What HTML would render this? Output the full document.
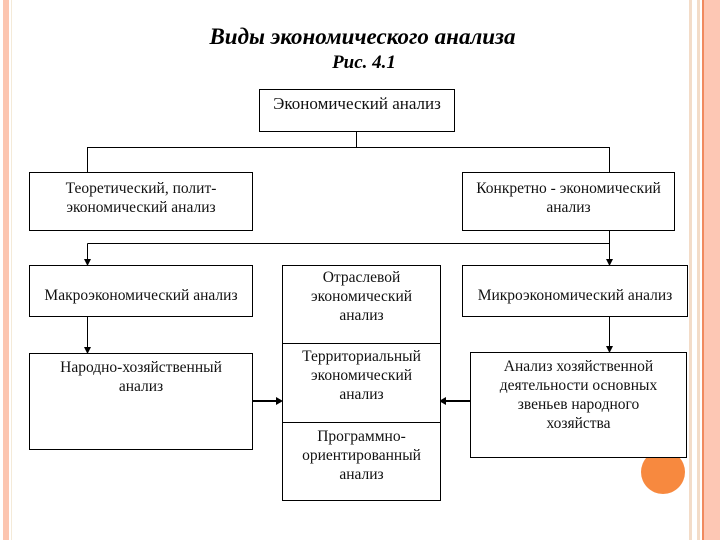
<!DOCTYPE html>
<html><head><meta charset="utf-8"><style>
body{margin:0;width:720px;height:540px;position:relative;background:#fff;overflow:hidden;font-family:"Liberation Serif",serif;}
.b{position:absolute;border:1px solid #000;box-sizing:border-box;text-align:center;font-size:15.5px;line-height:19px;color:#111;background:#fff;white-space:nowrap;}
.s{position:absolute;}
</style></head><body>
<div class="s" style="left:3px;top:0;width:6px;height:540px;background:#fcc5b0"></div>
<div class="s" style="left:11px;top:0;width:1px;height:540px;background:#f4ead8"></div>
<div class="s" style="left:689px;top:0;width:3px;height:540px;background:#f3dcc8"></div>
<div class="s" style="left:697px;top:0;width:3px;height:540px;background:#f3dcc8"></div>
<div class="s" style="left:702px;top:0;width:2px;height:540px;background:#f08a60"></div>
<div class="s" style="left:704px;top:0;width:16px;height:540px;background:#fdc7b4"></div>
<div class="s" style="left:641px;top:450px;width:44px;height:44px;border-radius:50%;background:#f7893f"></div>

<div class="s" style="left:0;top:24px;width:725px;text-align:center;font-size:23px;font-weight:bold;font-style:italic;line-height:26px">Виды экономического анализа</div>
<div class="s" style="left:0;top:51px;width:728px;text-align:center;font-size:19px;font-weight:bold;font-style:italic;line-height:24px">Рис. 4.1</div>

<svg class="s" style="left:0;top:0" width="720" height="540">
<g stroke="#000" stroke-width="1" fill="none">
<path d="M356.5 131V147.5H87.5V172M356.5 147.5H609.5V172"/>
<path d="M87.5 243.5H609.5M87.5 243.5V259M609.5 230V259M87.5 316V347M609.5 316V346"/>
</g>
<g stroke="#000" stroke-width="2"><path d="M252 401H276M470 401H446"/></g>
<g fill="#000">
<path d="M84 259H91L87.5 266Z"/><path d="M606 259H613L609.5 266Z"/>
<path d="M84 347H91L87.5 354Z"/><path d="M606 346H613L609.5 353Z"/>
<path d="M276 397V405L283 401Z"/><path d="M446 397V405L439 401Z"/>
</g>
</svg>

<div class="b" style="left:259px;top:89px;width:196px;height:43px;padding-top:4px;font-size:17px">Экономический анализ</div>
<div class="b" style="left:29px;top:172px;width:224px;height:59px;padding-top:6px">Теоретический, полит-<br>экономический анализ</div>
<div class="b" style="left:462px;top:172px;width:213px;height:59px;padding-top:6px">Конкретно - экономический<br>анализ</div>
<div class="b" style="left:29px;top:265px;width:224px;height:52px;padding-top:20px">Макроэкономический анализ</div>
<div class="b" style="left:282px;top:265px;width:159px;height:79px;padding-top:2px">Отраслевой<br>экономический<br>анализ</div>
<div class="b" style="left:462px;top:265px;width:226px;height:52px;padding-top:20px">Микроэкономический анализ</div>
<div class="b" style="left:29px;top:353px;width:224px;height:97px;padding-top:4px">Народно-хозяйственный<br>анализ</div>
<div class="b" style="left:282px;top:343px;width:159px;height:80px;padding-top:3px">Территориальный<br>экономический<br>анализ</div>
<div class="b" style="left:282px;top:422px;width:159px;height:79px;padding-top:4px">Программно-<br>ориентированный<br>анализ</div>
<div class="b" style="left:470px;top:352px;width:217px;height:106px;padding-top:4px">Анализ хозяйственной<br>деятельности основных<br>звеньев народного<br>хозяйства</div>
</body></html>
